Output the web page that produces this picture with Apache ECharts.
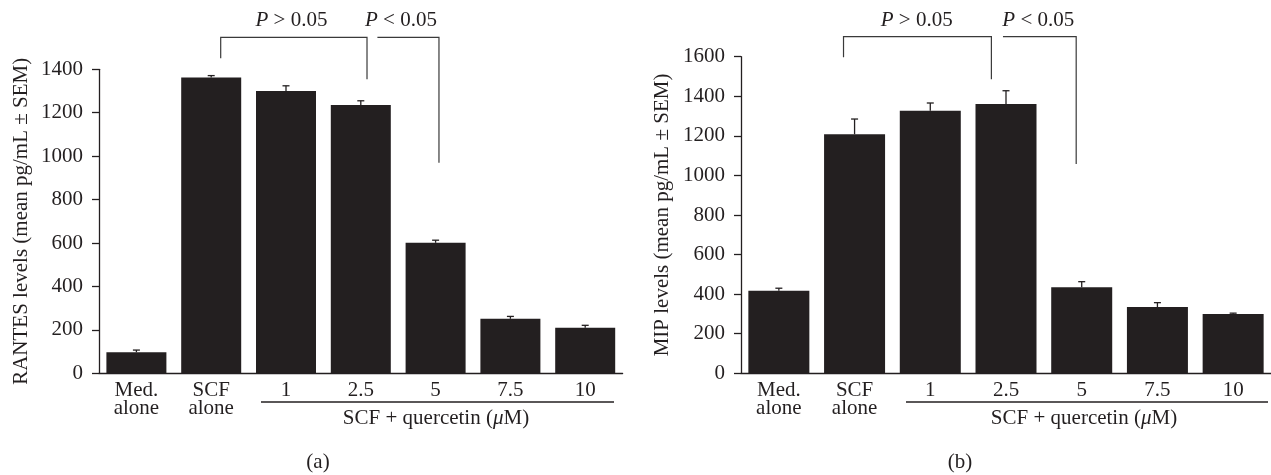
<!DOCTYPE html>
<html>
<head>
<meta charset="utf-8">
<script src="https://cdn.jsdelivr.net/npm/echarts@6/dist/echarts.min.js"></script>
<style>
html,body{margin:0;padding:0;background:#fff;}
#chart{width:1271px;height:475px;}
</style>
</head>
<body>
<div id="chart"></div>
<script>
// ---- data ----
const categories = ['Med.\nalone', 'SCF\nalone', '1', '2.5', '5', '7.5', '10'];
const rantesMean = [97, 1362, 1300, 1236, 601, 251, 210];
const rantesSem  = [10, 9, 24, 19, 12, 11, 11];
const mipMean    = [417, 1208, 1327, 1361, 435, 335, 300];
const mipSem     = [13, 77, 39, 67, 28, 22, 4];
const rantesAxis = [0, 1400, 200];   // min, max, interval
const mipAxis    = [0, 1600, 200];
// brackets: [xStart, xEnd (category units), yTop, yStartLegEnd, yEndLegEnd]
const bracketsA = [[1.127, 3.083, 1547, 1451, 1354], [3.222, 4.045, 1547, 1547, 970]];
const bracketsB = [[0.854, 2.807, 1701, 1597, 1486], [2.96, 3.927, 1701, 1701, 1058]];
const pLabels = ['{i|P} > 0.05', '{i|P} < 0.05'];
const groupLabel = 'SCF + quercetin ({i|\u03bc}M)';
const yNames = ['RANTES levels (mean pg/mL \u00b1 SEM)', 'MIP levels (mean pg/mL \u00b1 SEM)'];
const panelLabels = ['(a)', '(b)'];

// ---- style ----
const INK = '#231f20';
const FONT = 'Liberation Serif';
const FS = 21;

const chart = echarts.init(document.getElementById('chart'));

function errRender(params, api) {
  const x = api.value(0), m = api.value(1), e = api.value(2);
  const p0 = api.coord([x, m]);
  const p1 = api.coord([x, m + e]);
  const st = { stroke: INK, lineWidth: 1.3 };
  return {
    type: 'group',
    children: [
      { type: 'line', shape: { x1: p0[0], y1: p0[1], x2: p1[0], y2: p1[1] }, style: st },
      { type: 'line', shape: { x1: p1[0] - 3.5, y1: p1[1], x2: p1[0] + 3.5, y2: p1[1] }, style: st }
    ]
  };
}
function bracketRender(params, api) {
  const x1 = api.value(0), x2 = api.value(1), yt = api.value(2), y1 = api.value(3), y2 = api.value(4);
  const a = api.coord([x1, y1]), b = api.coord([x1, yt]), c = api.coord([x2, yt]), d = api.coord([x2, y2]);
  return {
    type: 'polyline',
    shape: { points: [a, b, c, d] },
    style: { stroke: '#3a3a3a', lineWidth: 1.2, fill: null }
  };
}

const grids = [
  { left: 99, top: 69.3, width: 523.6, height: 304, containLabel: false },
  { left: 741, top: 56.7, width: 537.6, height: 316.6, containLabel: false }
];

function yAxis(gi, ax, name, gap) {
  return {
    type: 'value', gridIndex: gi, min: ax[0], max: ax[1], interval: ax[2],
    name: name, nameLocation: 'middle', nameGap: gap,
    nameTextStyle: { fontFamily: FONT, fontSize: FS, color: INK },
    axisLine: { show: true, onZero: false, lineStyle: { color: INK, width: 1.3 } },
    axisTick: { show: true, length: 7, lineStyle: { color: INK, width: 1.3 } },
    splitLine: { show: false },
    axisLabel: { fontFamily: FONT, fontSize: FS, color: INK, margin: 16, formatter: v => String(v) }
  };
}
function xCat(gi) {
  return {
    type: 'category', gridIndex: gi, data: categories,
    axisLine: { show: true, onZero: false, lineStyle: { color: INK, width: 1.3 } },
    axisTick: { show: false },
    axisLabel: { fontFamily: FONT, fontSize: FS, color: INK, margin: 8, lineHeight: 18, interval: 0 }
  };
}
function xHidden(gi) {
  return { type: 'value', gridIndex: gi, min: -0.5, max: 6.5, show: false, axisLine: { onZero: false } };
}

function text(x, y, t) {
  return {
    type: 'text', x: x, y: y, silent: true,
    style: {
      text: t, fontFamily: FONT, fontSize: FS, fill: INK, align: 'center', verticalAlign: 'middle',
      rich: { i: { fontStyle: 'italic', fontFamily: FONT, fontSize: FS, fill: INK } }
    }
  };
}
function hline(x1, x2, y) {
  return { type: 'line', silent: true, shape: { x1: x1, y1: y, x2: x2, y2: y }, style: { stroke: INK, lineWidth: 1.3 } };
}

chart.setOption({
  animation: false,
  backgroundColor: '#fff',
  grid: grids,
  xAxis: [xCat(0), xCat(1), xHidden(0), xHidden(1)],
  yAxis: [yAxis(0, rantesAxis, yNames[0], 67), yAxis(1, mipAxis, yNames[1], 68)],
  series: [
    { type: 'bar', xAxisIndex: 0, yAxisIndex: 0, data: rantesMean, barWidth: 60, itemStyle: { color: INK } },
    { type: 'bar', xAxisIndex: 1, yAxisIndex: 1, data: mipMean, barWidth: 61, itemStyle: { color: INK } },
    { type: 'custom', xAxisIndex: 0, yAxisIndex: 0, renderItem: errRender, z: 5,
      data: categories.map((c, i) => [i, rantesMean[i], rantesSem[i]]), encode: { x: 0, y: [1, 2] } },
    { type: 'custom', xAxisIndex: 1, yAxisIndex: 1, renderItem: errRender, z: 5,
      data: categories.map((c, i) => [i, mipMean[i], mipSem[i]]), encode: { x: 0, y: [1, 2] } },
    { type: 'custom', xAxisIndex: 2, yAxisIndex: 0, renderItem: bracketRender, clip: false,
      data: bracketsA, encode: { x: [0, 1], y: [2, 3, 4] } },
    { type: 'custom', xAxisIndex: 3, yAxisIndex: 1, renderItem: bracketRender, clip: false,
      data: bracketsB, encode: { x: [0, 1], y: [2, 3, 4] } }
  ],
  graphic: [
    text(291.5, 20.5, pLabels[0]),
    text(401, 20.5, pLabels[1]),
    text(916.7, 20.5, pLabels[0]),
    text(1038.3, 20.5, pLabels[1]),
    hline(261, 614, 402),
    hline(906, 1268, 402),
    text(436, 418, groupLabel),
    text(1084, 418, groupLabel),
    text(318, 462, panelLabels[0]),
    text(960, 462, panelLabels[1])
  ]
});
</script>
</body>
</html>
